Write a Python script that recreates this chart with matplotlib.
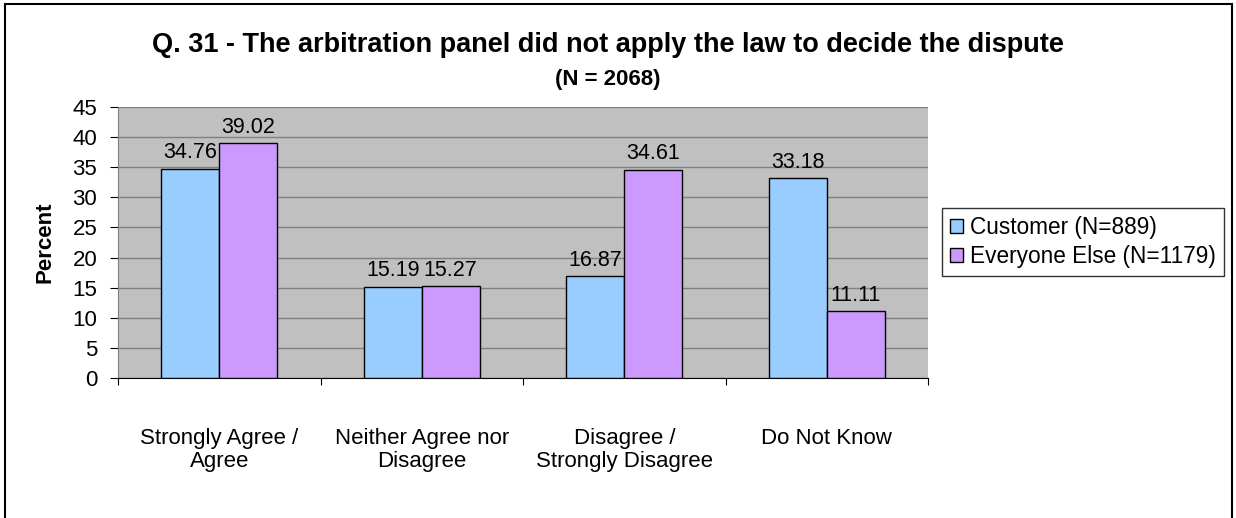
import numpy as np
import matplotlib.pyplot as plt
from matplotlib.patches import Rectangle

plt.rcParams['font.family'] = ['Liberation Sans', 'DejaVu Sans']

categories = ['Strongly Agree /\nAgree', 'Neither Agree nor\nDisagree',
              'Disagree /\nStrongly Disagree', 'Do Not Know']
customer = [34.76, 15.19, 16.87, 33.18]
everyone_else = [39.02, 15.27, 34.61, 11.11]
series_names = ['Customer (N=889)', 'Everyone Else (N=1179)']

fig = plt.figure(figsize=(12.36, 5.18), dpi=100)
ax = fig.add_axes([0.0955, 0.2703, 0.6553, 0.5231])
ax.set_facecolor('#C0C0C0')

x = np.arange(len(categories)) + 0.5
w = 0.286
b1 = ax.bar(x - w / 2, customer, w, color='#99CCFF', edgecolor='black', linewidth=1, label=series_names[0], zorder=3)
b2 = ax.bar(x + w / 2, everyone_else, w, color='#CC99FF', edgecolor='black', linewidth=1, label=series_names[1], zorder=3)

for bars, vals in ((b1, customer), (b2, everyone_else)):
    for r, v in zip(bars, vals):
        ax.text(r.get_x() + r.get_width() / 2, v + 0.9, f'{v:.2f}', ha='center', va='bottom', fontsize=15.5)

ax.set_xlim(0, 4)
ax.set_ylim(0, 45)
ax.set_yticks(np.arange(0, 46, 5))
ax.set_xticks([0, 1, 2, 3, 4])
ax.set_xticklabels([])
ax.set_xticks(x, minor=True)
ax.set_xticklabels(categories, minor=True, fontsize=16, linespacing=1.15)
ax.tick_params(axis='x', which='minor', length=0, pad=36)
ax.tick_params(axis='x', which='major', length=5, color='black')
ax.tick_params(axis='y', labelsize=16, length=6, pad=9)
ax.grid(axis='y', color='#808080', linewidth=1, zorder=0)
ax.set_axisbelow(True)
for s in ['top', 'right']:
    ax.spines[s].set_visible(False)
ax.spines['left'].set_color('#808080')
ax.spines['bottom'].set_color('black')

ax.set_ylabel('Percent', fontsize=16, fontweight='bold', labelpad=12)

fig.text(0.492, 0.913, 'Q. 31 - The arbitration panel did not apply the law to decide the dispute',
         ha='center', va='center', fontsize=19.5, fontweight='bold')
fig.text(0.492, 0.846, '(N = 2068)', ha='center', va='center', fontsize=16, fontweight='bold')

leg = fig.legend(handles=[b1, b2], loc='center left', bbox_to_anchor=(0.762, 0.533),
                 frameon=True, fancybox=False, edgecolor='black', fontsize=16.3,
                 handlelength=0.6, handleheight=0.6, handletextpad=0.3, borderpad=0.35,
                 labelspacing=0.25, borderaxespad=0)
leg.get_frame().set_linewidth(1)

fig.patches.append(Rectangle((0.004, -0.01), 0.993, 1.002, transform=fig.transFigure,
                             fill=False, edgecolor='black', linewidth=1.5))

fig.savefig('out.png', dpi=100)
